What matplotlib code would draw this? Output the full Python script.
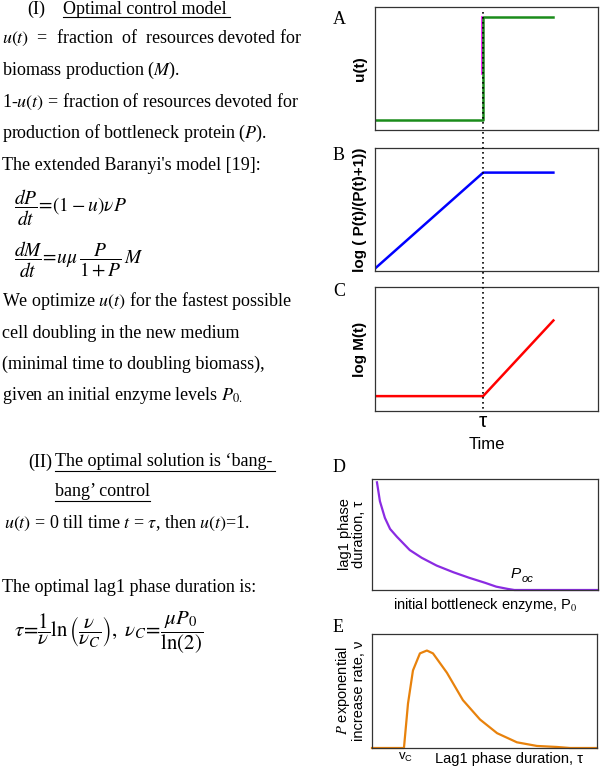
import numpy as np
import matplotlib
matplotlib.use("Agg")
import matplotlib.pyplot as plt
from matplotlib.lines import Line2D

plt.rcParams["mathtext.fontset"] = "stix"

# time courses (normalised time, switch at tau)
t_switch = 0.485
t_end = 0.80
t_u = [0.0, t_switch, t_switch, t_end]
u_vals = [0.0, 0.0, 1.0, 1.0]
t_bp = [0.0, t_switch, t_end]
logP_vals = [0.02, 0.80, 0.80]
logM_vals = [0.12, 0.12, 0.73]

# panel D: lag1 duration vs initial bottleneck enzyme
P0_vals = [0.022, 0.035, 0.057, 0.08, 0.11, 0.167, 0.22, 0.286, 0.36, 0.43, 0.50, 0.55, 0.60, 0.63, 1.0]
lag_vals = [0.97, 0.80, 0.65, 0.55, 0.48, 0.36, 0.29, 0.22, 0.16, 0.11, 0.065, 0.03, 0.01, 0.0, 0.0]

# panel E: P exponential increase rate vs lag1 duration
tau_vals = [0.0, 0.142, 0.16, 0.182, 0.213, 0.244, 0.271, 0.333, 0.404, 0.48, 0.556, 0.644, 0.733, 0.822, 0.88, 1.0]
nu_vals = [0.0, 0.0, 0.39, 0.68, 0.83, 0.855, 0.83, 0.66, 0.42, 0.25, 0.13, 0.05, 0.018, 0.009, 0.0, 0.0]

fig = plt.figure(figsize=(6, 7.68), dpi=100)

def px_ax(left, top, right, bottom):
    ax = fig.add_axes([left / 600, 1 - bottom / 768, (right - left) / 600, (bottom - top) / 768])
    ax.patch.set_alpha(0)
    return ax

def frame(ax):
    ax.set_xticks([])
    ax.set_yticks([])
    for s in ax.spines.values():
        s.set_linewidth(0.9)
        s.set_color("#333333")

axA = px_ax(375, 7, 598, 130)
axB = px_ax(375, 148, 598, 271)
axC = px_ax(375, 287, 598, 411)
axD = px_ax(372, 479, 598, 590)
axE = px_ax(372, 634, 597, 748)

for ax in (axA, axB, axC):
    frame(ax)
    ax.set_xlim(0, 1)
axA.set_ylim(-0.1, 1.1)
axB.set_ylim(0, 1)
axC.set_ylim(0, 1)

axA.plot([t_switch - 0.004, t_switch - 0.004], [0.45, 1.0], color="#ff00ff", lw=1.2)
axA.plot(t_u, u_vals, color="#1a8c1a", lw=1.8)
axB.plot(t_bp, logP_vals, color="#0000ff", lw=1.8)
axC.plot(t_bp, logM_vals, color="#ff0000", lw=1.8)

lab = dict(fontsize=11, fontweight="bold", family="Liberation Sans")
axA.set_ylabel("u(t)", labelpad=6, **lab)
axB.set_ylabel("log ( P(t)/(P(t)+1))", labelpad=6, **lab)
axC.set_ylabel("log M(t)", labelpad=6, **lab)
axC.set_xticks([t_switch])
axC.set_xticklabels(["τ"], fontsize=15, family="Liberation Sans")
axC.tick_params(axis="x", length=0, pad=1)
axC.set_xlabel("Time", fontsize=12, family="Liberation Sans", labelpad=4)

# dotted vertical line through panels A-C
xf = fig.transFigure.inverted().transform(axA.transData.transform((t_switch, 0)))[0]
fig.add_artist(Line2D([xf, xf], [1 - 12 / 768, 1 - 411 / 768], transform=fig.transFigure,
                      color="black", lw=1.2, linestyle=(0, (1, 2)), zorder=5))

# panel D
frame(axD)
axD.set_xlim(0, 1)
axD.set_ylim(0, 1)
axD.plot(P0_vals, lag_vals, color="#8a2be2", lw=1.6, clip_on=False)
axD.set_xlabel(r"initial bottleneck enzyme, P$_0$", fontsize=10.5, family="Liberation Sans", labelpad=4)
axD.set_ylabel("lag1 phase\nduration, τ", fontsize=10.5, family="Liberation Sans", labelpad=4, linespacing=1.0)
axD.text(0.615, 0.11, "P", fontsize=11, family="Liberation Sans", style="italic")
axD.text(0.66, 0.07, "oc", fontsize=8, family="Liberation Sans", style="italic")

# panel E
frame(axE)
axE.set_xlim(0, 1)
axE.set_ylim(0, 1)
axE.plot(tau_vals, nu_vals, color="#e8820c", lw=1.6, clip_on=False)
axE.set_xticks([0.15])
axE.set_xticklabels([r"$\mathregular{v_C}$"], fontsize=9.5, family="Liberation Sans")
axE.tick_params(axis="x", length=0, pad=2)
axE.text(0.61, -0.1, "Lag1 phase duration, τ", fontsize=10.5, family="Liberation Sans",
         ha="center", va="center", transform=axE.transAxes)
axE.set_ylabel(r"$\it{P}$ exponential" + "\nincrease rate, ν", fontsize=10.5, family="Liberation Sans",
               labelpad=4, linespacing=1.0)

# panel letters
for letter, y in [("A", 20), ("B", 155), ("C", 292), ("D", 467), ("E", 628)]:
    fig.text(333 / 600, 1 - y / 768, letter, fontsize=13, family="Liberation Serif", va="center")

# left column text
serif = dict(family="Liberation Serif", fontsize=13, va="center")

def line(x, y, s, **kw):
    d = dict(serif)
    d.update(kw)
    return fig.text(x / 600, 1 - y / 768, s, **d)

def underline(x0, x1, y):
    fig.add_artist(Line2D([x0 / 600, x1 / 600], [1 - y / 768, 1 - y / 768],
                          transform=fig.transFigure, color="black", lw=0.8))

line(27, 9, "(I)")
line(63, 9, "Optimal control model")
underline(63, 230, 17)
line(2, 38, r"$u(t)$  =  fraction  of  resources devoted for")
line(2, 70, r"biomass production ($M$).")
line(2, 102, r"1-$u(t)$ = fraction of resources devoted for")
line(2, 133, r"production of bottleneck protein ($P$).")
line(2, 165, "The extended Baranyi's model [19]:")
line(14, 208, r"$\dfrac{dP}{dt}\!=\!\left(1-u\right)\nu P$", fontsize=14)
line(14, 260, r"$\dfrac{dM}{dt}\!=\!u\mu\,\dfrac{P}{1+P}\,M$", fontsize=14)
line(2, 301, r"We optimize $u(t)$ for the fastest possible")
line(2, 333, "cell doubling in the new medium")
line(2, 364, "(minimal time to doubling biomass),")
line(2, 395, r"given an initial enzyme levels $P_{0.}$")
line(28, 462, "(II)")
line(55, 462, "The optimal solution is \u2018bang-")
underline(55, 275, 471)
line(55, 492, "bang\u2019 control")
underline(55, 150, 501)
line(4, 523, r"$u(t)$ = 0 till time $t$ = $\tau$, then $u(t)$=1.")
line(2, 587, "The optimal lag1 phase duration is:")
line(14, 633, r"$\tau\!=\!\dfrac{1}{\nu}\ln\left(\dfrac{\nu}{\nu_C}\right),\ \nu_C\!=\!\dfrac{\mu P_0}{\ln(2)}$",
     fontsize=15)

fig.savefig("out.png", dpi=100)
